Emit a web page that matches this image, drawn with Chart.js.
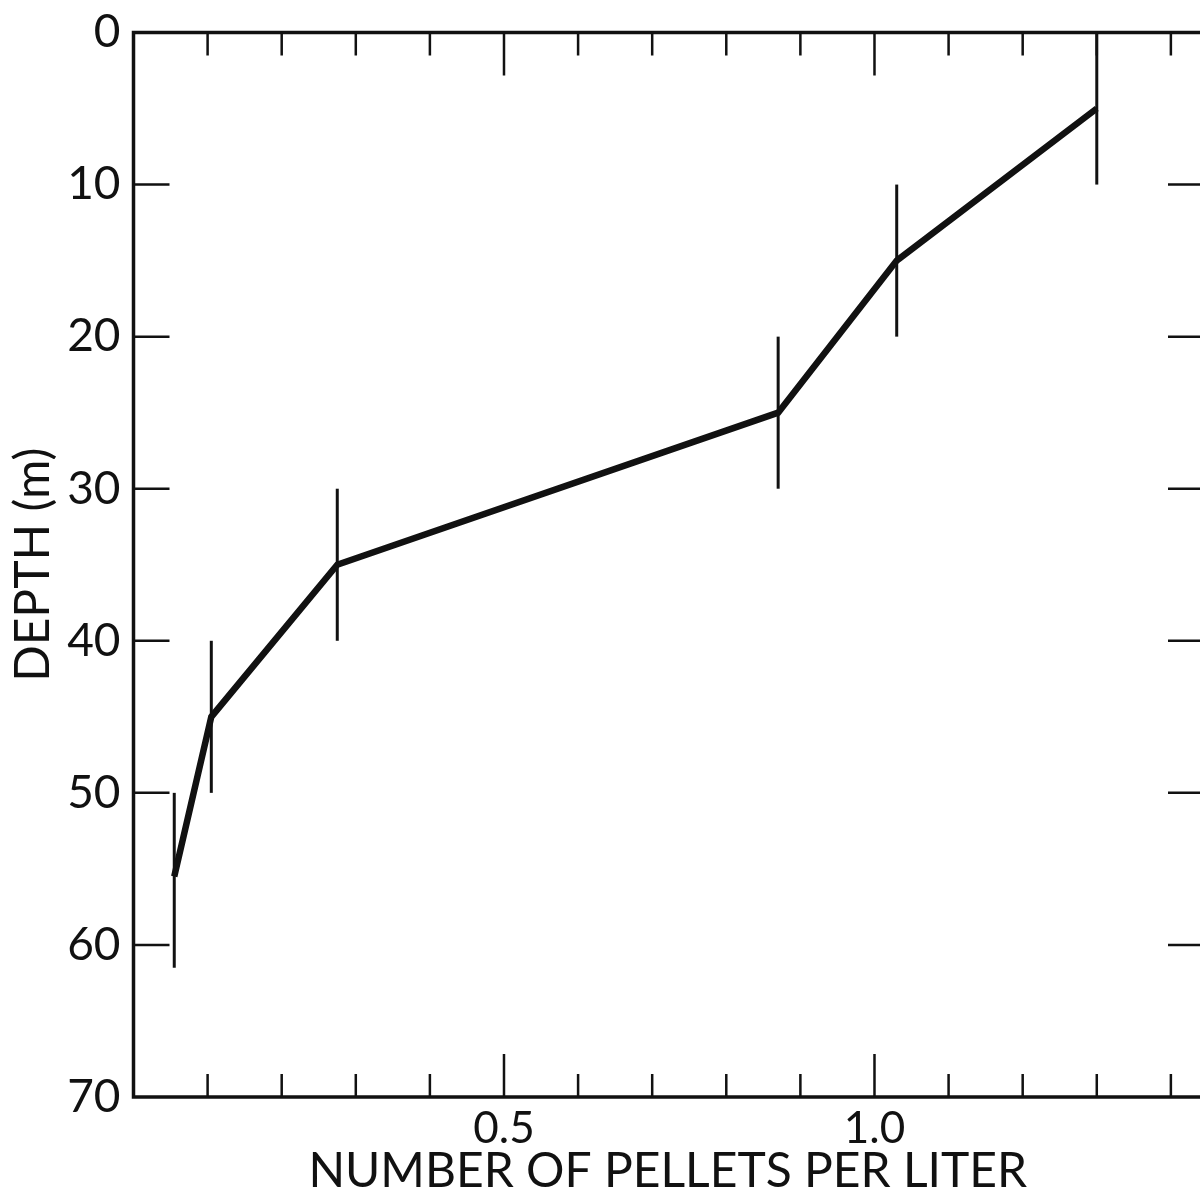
<!DOCTYPE html>
<html>
<head>
<meta charset="utf-8">
<title>Pellets per liter vs depth</title>
<script src="https://cdn.jsdelivr.net/npm/chart.js@4/dist/chart.umd.min.js"></script>
<style>
  html, body { margin: 0; padding: 0; background: #fff; overflow: hidden; }
  #wrap { position: relative; width: 1204px; height: 1190px; }
</style>
</head>
<body>
<div id="wrap"><canvas id="chart" width="1204" height="1190"></canvas></div>
<script>
// sampling depths (m) and mean pellet counts per liter
const depths = [5, 15, 25, 35, 45, 55.5];
const pellets = [1.30, 1.03, 0.87, 0.275, 0.105, 0.055];
// depth interval covered by each sample (vertical bars)
const depthTop = [0, 10, 20, 30, 40, 50];
const depthBottom = [10, 20, 30, 40, 50, 61.5];

// axis ticks
const xTickValues = [0, 0.1, 0.2, 0.3, 0.4, 0.5, 0.6, 0.7, 0.8, 0.9, 1.0, 1.1, 1.2, 1.3, 1.4];
const xLabelled = [0.5, 1.0];
const yTickValues = [0, 10, 20, 30, 40, 50, 60, 70];

const INK = '#111';
const FONT = 'Lato, "DejaVu Sans", sans-serif';

const near = (a, b) => Math.abs(a - b) < 1e-6;

// box round the plot, inward ticks on all four sides, depth bars
const frame = {
  id: 'frame',
  beforeDatasetsDraw(chart) {
    const { ctx, scales: { x, y } } = chart;
    ctx.save();
    ctx.strokeStyle = INK;
    ctx.lineWidth = 3;
    ctx.lineCap = 'butt';
    depths.forEach((d, i) => {
      const px = x.getPixelForValue(pellets[i]);
      ctx.beginPath();
      ctx.moveTo(px, y.getPixelForValue(depthTop[i]));
      ctx.lineTo(px, y.getPixelForValue(depthBottom[i]));
      ctx.stroke();
    });
    ctx.restore();
  },
  afterDraw(chart) {
    const { ctx, chartArea: a, scales: { x, y } } = chart;
    ctx.save();
    ctx.strokeStyle = INK;
    ctx.lineWidth = 3.5;
    ctx.strokeRect(a.left, a.top, a.right - a.left, a.bottom - a.top);

    ctx.lineWidth = 2.5;
    ctx.beginPath();
    xTickValues.forEach(v => {
      if (near(v, 0)) return;
      const px = x.getPixelForValue(v);
      const len = xLabelled.some(m => near(m, v)) ? 43 : 23;
      ctx.moveTo(px, a.bottom);
      ctx.lineTo(px, a.bottom - len);
      ctx.moveTo(px, a.top);
      ctx.lineTo(px, a.top + len);
    });
    yTickValues.forEach(v => {
      if (v === 0 || v === 70) return;
      const py = y.getPixelForValue(v);
      ctx.moveTo(a.left, py);
      ctx.lineTo(a.left + 36, py);
      ctx.moveTo(a.right, py);
      ctx.lineTo(a.right - 34, py);
    });
    ctx.stroke();
    ctx.restore();
  }
};

new Chart(document.getElementById('chart'), {
  type: 'line',
  data: {
    datasets: [{
      data: pellets.map((p, i) => ({ x: p, y: depths[i] })),
      borderColor: INK,
      borderWidth: 6.5,
      borderJoinStyle: 'miter',
      pointRadius: 0,
      tension: 0,
      fill: false
    }]
  },
  options: {
    responsive: false,
    animation: false,
    layout: { padding: { top: 32.5, right: 2, left: 0, bottom: 0 } },
    plugins: { legend: { display: false }, tooltip: { enabled: false } },
    scales: {
      x: {
        type: 'linear',
        min: 0,
        max: 1.442,
        afterBuildTicks: s => { s.ticks = xTickValues.map(v => ({ value: v })); },
        afterFit: s => { s.height = 93; s.paddingLeft = 0; s.paddingRight = 0; },
        grid: { display: false },
        border: { display: false },
        ticks: {
          autoSkip: false,
          maxRotation: 0,
          padding: -3,
          color: INK,
          font: { family: FONT, size: 44 },
          callback: v => xLabelled.some(m => near(m, v)) ? v.toFixed(1) : ''
        },
        title: {
          display: true,
          text: 'NUMBER OF PELLETS PER LITER',
          color: INK,
          font: { family: FONT, size: 48, lineHeight: 0.75 },
          padding: { top: 0, bottom: 0 }
        }
      },
      y: {
        type: 'linear',
        reverse: true,
        min: 0,
        max: 70,
        afterBuildTicks: s => { s.ticks = yTickValues.map(v => ({ value: v })); },
        afterFit: s => { s.width = 133.5; s.paddingTop = 0; s.paddingBottom = 0; },
        grid: { display: false },
        border: { display: false },
        ticks: {
          padding: 5,
          color: INK,
          font: { family: FONT, size: 46 }
        },
        title: {
          display: true,
          text: 'DEPTH (m)',
          color: INK,
          font: { family: FONT, size: 48, lineHeight: 1.2 },
          padding: { top: 5, bottom: 0 }
        }
      }
    }
  },
  plugins: [frame]
});
</script>
</body>
</html>
